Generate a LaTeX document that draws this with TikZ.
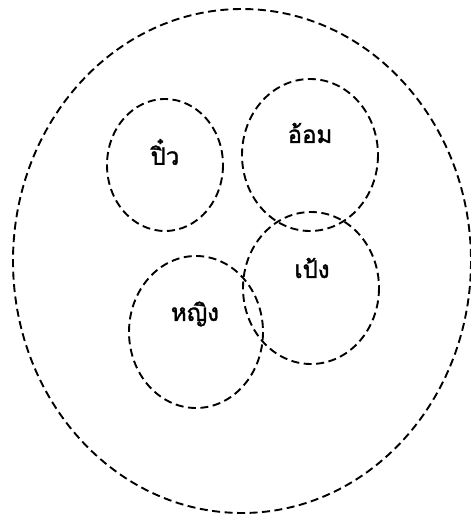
\documentclass[tikz,border=0pt]{standalone}
\usepackage{fontspec}
\newfontfamily\thaifont[Script=Thai, FakeBold=1.5]{Loma}
\usepackage{tikz}

\tikzset{
    setline/.style={line width=1.9pt, dash pattern=on 8pt off 4.5pt, black},
    setname/.style={font=\thaifont\fontsize{24}{28}\selectfont, inner sep=0pt}
}

\begin{document}
\begin{tikzpicture}[x=1pt, y=-1pt]

\useasboundingbox (0,0) rectangle (471,515);

% Conjunt universal
\draw[setline] (242,261) ellipse [x radius=229, y radius=252];

% Cercles petits
\draw[setline] (165,165) ellipse [x radius=58, y radius=66];
\draw[setline] (310,155) ellipse [x radius=68, y radius=76];
\draw[setline] (311,288) ellipse [x radius=68, y radius=76];
\draw[setline] (196,332) ellipse [x radius=67, y radius=76];

% Noms
\node[setname] (piw) at (165,152) {ปิ๋ว};
\node[setname] (om) at (310,133) {อ้อม};
\node[setname] (peng) at (312,268) {เป้ง};
\node[setname] (ying) at (195,314) {หญิง};

\end{tikzpicture}
\end{document}
